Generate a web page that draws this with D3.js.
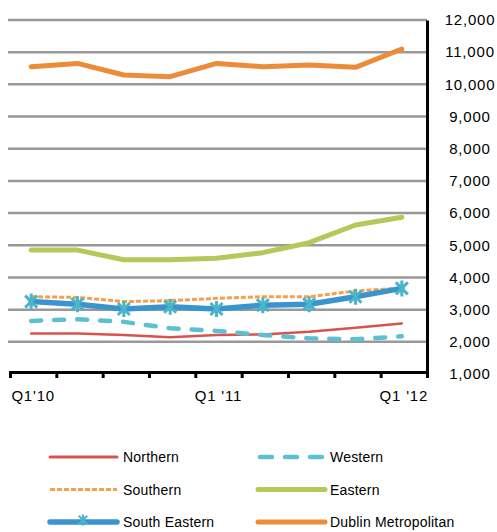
<!DOCTYPE html>
<html>
<head>
<meta charset="utf-8">
<script src="https://cdn.jsdelivr.net/npm/d3@7"></script>
<style>
  body { margin: 0; background: #fff; }
  text { font-family: "Liberation Sans", Arial, sans-serif; fill: #000; }
</style>
</head>
<body>
<svg id="chart" width="497" height="532"></svg>
<script>
// quarters, Q1'10 .. Q1'12
const quarters = ["Q1'10", "Q2'10", "Q3'10", "Q4'10", "Q1 '11", "Q2'11", "Q3'11", "Q4'11", "Q1 '12"];
const shownLabels = ["Q1'10", "Q1 '11", "Q1 '12"];
const yTicks = [1000, 2000, 3000, 4000, 5000, 6000, 7000, 8000, 9000, 10000, 11000, 12000];

const northern = [2260, 2260, 2210, 2140, 2210, 2230, 2310, 2440, 2570];
const western = [2650, 2700, 2620, 2420, 2340, 2210, 2110, 2080, 2170];
const southern = [3400, 3380, 3250, 3280, 3350, 3400, 3400, 3580, 3670];
const eastern = [4850, 4850, 4550, 4550, 4600, 4770, 5080, 5630, 5870];
const southEastern = [3250, 3170, 3020, 3090, 3020, 3140, 3170, 3400, 3660];
const dublin = [10550, 10650, 10290, 10240, 10650, 10550, 10600, 10530, 11100];

const series = [
    {name: 'Northern', values: northern, color: '#d9534e', width: 2.5, dash: null},
    {name: 'Western', values: western, color: '#5cc0d3', width: 4.5, dash: '10,13', cap: 'round'},
    {name: 'Southern', values: southern, color: '#f7a04a', width: 3, dash: '5,2'},
    {name: 'Eastern', values: eastern, color: '#b6c85a', width: 5, dash: null},
    {name: 'South Eastern', values: southEastern, color: '#3a95ce', width: 5.5, dash: null, marker: '#4ab4c9'},
    {name: 'Dublin Metropolitan', values: dublin, color: '#ed8c38', width: 5, dash: null}
];
const legendOrder = ['Northern', 'Western', 'Southern', 'Eastern', 'South Eastern', 'Dublin Metropolitan'];

const svg = d3.select('#chart');
const plotLeft = 10, plotRight = 427, plotTop = 20, plotBottom = 374;

const x = d3.scaleBand().domain(quarters).range([plotLeft, plotRight]).padding(0);
const xi = d3.scaleLinear().domain([0, quarters.length]).range([plotLeft, plotRight]);
const y = d3.scaleLinear().domain([1000, 12000]).range([plotBottom, plotTop]);

//gridlines
svg.append('g')
    .selectAll('line')
    .data(yTicks.filter(d => d > 1000))
    .join('line')
    .attr('x1', 8)
    .attr('x2', plotRight)
    .attr('y1', d => y(d))
    .attr('y2', d => y(d))
    .attr('stroke', '#999')
    .attr('stroke-width', 2.5);

//right axis
const yAxis = svg.append('g')
    .attr('transform', `translate(${plotRight},0)`)
    .call(d3.axisRight(y).tickValues(yTicks).tickSize(0).tickFormat(d3.format(',')));
yAxis.select('.domain').attr('stroke', '#000').attr('stroke-width', 3);
yAxis.selectAll('text')
    .attr('x', 43)
    .attr('text-anchor', 'middle')
    .style('font-size', '15px')
    .style('letter-spacing', '0.8px')
    .style('font-family', '"Liberation Sans", Arial, sans-serif');

//bottom axis: ticks on band edges, labels on band centres
const xTickAxis = svg.append('g')
    .attr('transform', `translate(0,${y(1000) - 2})`)
    .call(d3.axisBottom(xi).tickValues(d3.range(0, quarters.length + 1)).tickSize(6).tickFormat(''));
xTickAxis.select('.domain').attr('stroke', '#000').attr('stroke-width', 3);
xTickAxis.selectAll('.tick line').attr('stroke', '#000').attr('stroke-width', 3);

const xLabelAxis = svg.append('g')
    .attr('transform', `translate(0,${y(1000)})`)
    .call(d3.axisBottom(x).tickValues(shownLabels).tickSize(0).tickPadding(16));
xLabelAxis.select('.domain').remove();
xLabelAxis.selectAll('text')
    .style('font-size', '15px')
    .style('letter-spacing', '0.8px')
    .style('font-family', '"Liberation Sans", Arial, sans-serif');

//lines
const line = d3.line()
    .x((d, i) => x(quarters[i]) + x.bandwidth() / 2 - 2)
    .y(d => y(d));

const star = 'M-6,-6L6,6M-6,6L6,-6M0,-8L0,8';

series.forEach(s => {
    svg.append('path')
        .datum(s.values)
        .attr('d', line)
        .attr('fill', 'none')
        .attr('stroke', s.color)
        .attr('stroke-width', s.width)
        .attr('stroke-linejoin', 'round')
        .attr('stroke-linecap', s.cap || (s.dash ? 'butt' : 'round'))
        .attr('stroke-dasharray', s.dash);

    if (s.marker) {
        svg.append('g')
            .selectAll('path')
            .data(s.values)
            .join('path')
            .attr('transform', (d, i) => `translate(${x(quarters[i]) + x.bandwidth() / 2 - 2},${y(d)})`)
            .attr('d', star)
            .attr('stroke', s.marker)
            .attr('stroke-width', 3)
            .attr('fill', 'none');
    }
});

//legend
const legend = svg.append('g');
legendOrder.forEach((name, i) => {
    const s = series.find(d => d.name === name);
    const col = i % 2, row = Math.floor(i / 2);
    const lx = col === 0 ? 50 : 258;
    const ly = 457 + row * 32.5;
    const g = legend.append('g').attr('transform', `translate(${lx},${ly})`);
    g.append('line')
        .attr('x1', s.cap ? 2 : 0)
        .attr('x2', s.cap ? 66 : 67)
        .attr('stroke', s.color)
        .attr('stroke-width', s.name === 'Northern' ? 3 : s.width)
        .attr('stroke-linecap', s.cap || (s.dash ? 'butt' : 'round'))
        .attr('stroke-dasharray', s.name === 'Western' ? '12,13' : s.dash);
    if (s.marker) {
        g.append('path')
            .attr('transform', 'translate(33,-2) scale(0.7)')
            .attr('d', star)
            .attr('stroke', s.marker)
            .attr('stroke-width', 3);
    }
    g.append('text')
        .attr('x', col === 0 ? 73 : 72)
        .attr('y', 5)
        .style('font-size', '14px')
        .style('letter-spacing', '0.2px')
        .text(name);
});
</script>
</body>
</html>
